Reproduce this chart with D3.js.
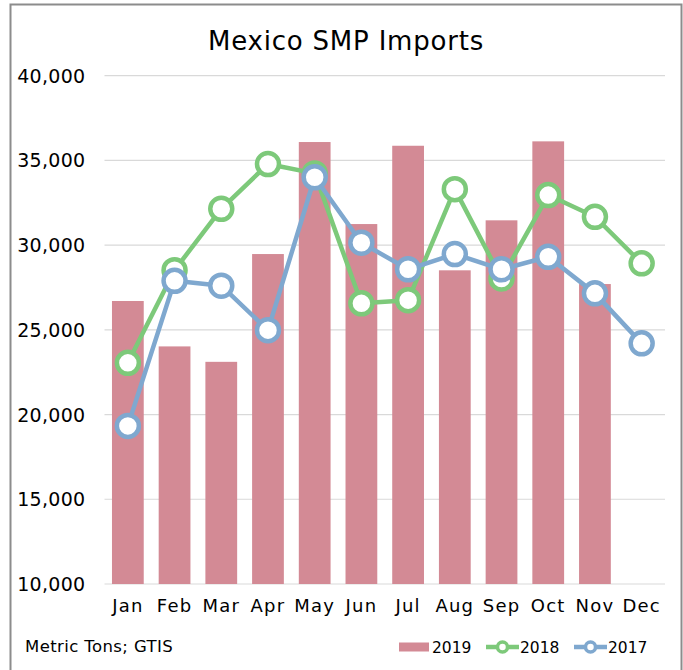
<!DOCTYPE html>
<html>
<head>
<meta charset="utf-8">
<script src="https://cdn.jsdelivr.net/npm/d3@7"></script>
<style>
  html, body { margin: 0; padding: 0; background: #fff; }
  svg text { font-family: 'DejaVu Sans', sans-serif; fill: #000; }
</style>
</head>
<body>
<div id="chart"></div>
<script>
// Chart data (metric tons)
const months = ['Jan', 'Feb', 'Mar', 'Apr', 'May', 'Jun', 'Jul', 'Aug', 'Sep', 'Oct', 'Nov', 'Dec'];
const imports2019 = [26700, 24020, 23110, 29470, 36080, 31240, 35860, 28510, 31460, 36120, 27700, null];
const imports2018 = [23050, 28520, 32140, 34780, 34230, 26560, 26750, 33300, 28030, 32950, 31670, 28920];
const imports2017 = [19330, 27890, 27600, 24980, 34000, 30140, 28570, 29470, 28570, 29310, 27150, 24200];
const yTicks = [10000, 15000, 20000, 25000, 30000, 35000, 40000];

const width = 683;
const height = 670;
const margin = { top: 75.6, right: 18, bottom: 86, left: 104.5 };

const BAR_COLOR = '#d38a95';
const GREEN = '#7dc97a';
const BLUE = '#7fa8cf';

const svg = d3
  .select('#chart')
  .append('svg')
  .attr('width', width)
  .attr('height', height);

// outer frame
svg
  .append('rect')
  .attr('x', 10.5)
  .attr('y', 4.5)
  .attr('width', 671)
  .attr('height', 680)
  .attr('fill', '#fff')
  .attr('stroke', '#8c8c8c')
  .attr('stroke-width', 2);

svg
  .append('text')
  .attr('x', 346)
  .attr('y', 50)
  .attr('text-anchor', 'middle')
  .style('font-size', '26px')
  .style('letter-spacing', '0.8px')
  .text('Mexico SMP Imports');

const x = d3
  .scaleBand()
  .domain(months)
  .range([margin.left, width - margin.right])
  .paddingInner(0.32)
  .paddingOuter(0.16);

const y = d3
  .scaleLinear()
  .domain([10000, 40000])
  .range([height - margin.bottom, margin.top]);

// gridlines
svg
  .append('g')
  .selectAll('line')
  .data(yTicks)
  .enter()
  .append('line')
  .attr('x1', margin.left)
  .attr('x2', width - margin.right)
  .attr('y1', (d) => y(d))
  .attr('y2', (d) => y(d))
  .attr('stroke', '#d9d9d9')
  .attr('stroke-width', 1.2);

// y axis labels
const yAxis = d3.axisLeft(y).tickValues(yTicks).tickFormat(d3.format(',')).tickSize(0).tickPadding(19);
const yG = svg.append('g').attr('transform', `translate(${margin.left}, 0)`).call(yAxis);
yG.select('.domain').remove();
yG.selectAll('text').style('font-size', '19px').style('letter-spacing', '0.3px').attr('dy', '0.35em');

// x axis labels
const xAxis = d3.axisBottom(x).tickSize(0).tickPadding(15);
const xG = svg.append('g').attr('transform', `translate(0, ${height - margin.bottom})`).call(xAxis);
xG.select('.domain').remove();
xG.selectAll('text').style('font-size', '18px').style('letter-spacing', '1.2px');

// bars 2019
svg
  .append('g')
  .selectAll('rect')
  .data(imports2019.map((v, i) => ({ m: months[i], v })).filter((d) => d.v !== null))
  .enter()
  .append('rect')
  .attr('x', (d) => x(d.m))
  .attr('y', (d) => y(d.v))
  .attr('width', x.bandwidth())
  .attr('height', (d) => y(10000) - y(d.v))
  .attr('fill', BAR_COLOR);

// line series
function drawSeries(values, color) {
  const pts = values.map((v, i) => ({ m: months[i], v }));
  const line = d3
    .line()
    .x((d) => x(d.m) + x.bandwidth() / 2)
    .y((d) => y(d.v));
  const g = svg.append('g');
  g.append('path')
    .datum(pts)
    .attr('d', line)
    .attr('fill', 'none')
    .attr('stroke', color)
    .attr('stroke-width', 4.5)
    .attr('stroke-linejoin', 'round');
  g.selectAll('circle')
    .data(pts)
    .enter()
    .append('circle')
    .attr('cx', (d) => x(d.m) + x.bandwidth() / 2)
    .attr('cy', (d) => y(d.v))
    .attr('r', 11)
    .attr('fill', '#fff')
    .attr('stroke', color)
    .attr('stroke-width', 4.5);
}
drawSeries(imports2018, GREEN);
drawSeries(imports2017, BLUE);

// footer note
svg
  .append('text')
  .attr('x', 25)
  .attr('y', 652)
  .style('font-size', '16.5px')
  .style('letter-spacing', '0.4px')
  .text('Metric Tons; GTIS');

// legend
const legend = svg.append('g');
const ly = 647;
legend.append('rect').attr('x', 399).attr('y', ly - 4.5).attr('width', 30).attr('height', 9).attr('fill', BAR_COLOR);
legend.append('text').attr('x', 432).attr('y', ly + 6).style('font-size', '15.5px').text('2019');

[[486, GREEN, '2018'], [574, BLUE, '2017']].forEach(([lx, color, label]) => {
  legend.append('line')
    .attr('x1', lx).attr('x2', lx + 33).attr('y1', ly).attr('y2', ly)
    .attr('stroke', color).attr('stroke-width', 4.5);
  legend.append('circle')
    .attr('cx', lx + 16.5).attr('cy', ly).attr('r', 5)
    .attr('fill', '#fff').attr('stroke', color).attr('stroke-width', 3.5);
  legend.append('text').attr('x', lx + 34).attr('y', ly + 6).style('font-size', '15.5px').text(label);
});
</script>
</body>
</html>
